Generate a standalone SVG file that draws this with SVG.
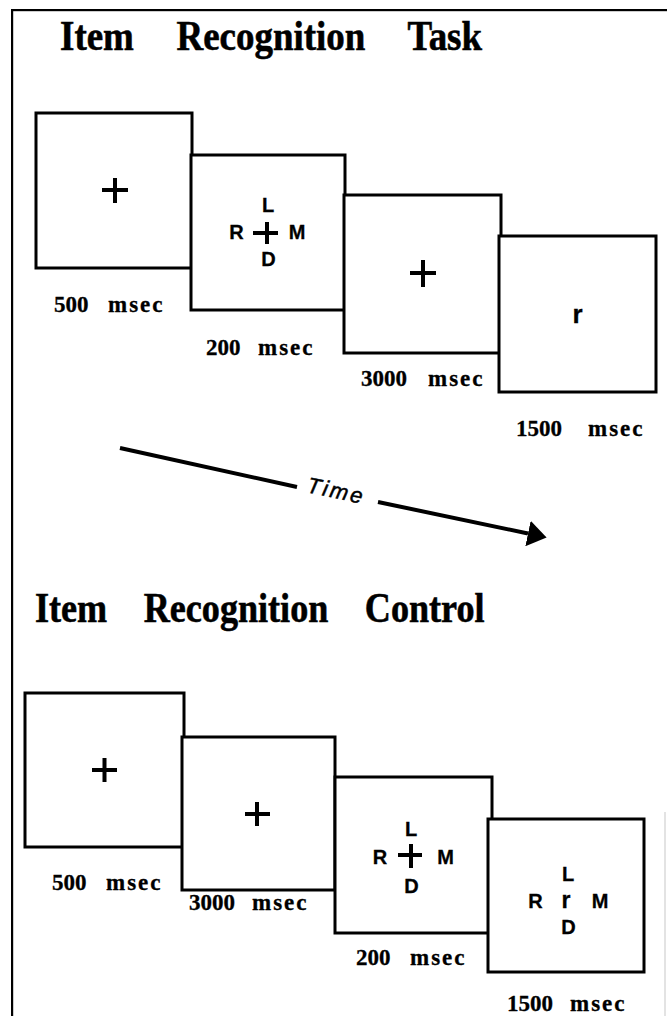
<svg xmlns="http://www.w3.org/2000/svg" width="667" height="1016" viewBox="0 0 667 1016">
<style>
.frame{fill:#000;stroke:none}
.box{fill:#fff;stroke:#000;stroke-width:3}
.title{font-family:"Liberation Serif","Times New Roman",serif;font-weight:bold;font-size:42px;fill:#000;stroke:#000;stroke-width:0.6}
.lbl{font-family:"Liberation Serif","Times New Roman",serif;font-weight:bold;font-size:23px;fill:#000;stroke:#000;stroke-width:0.3}
.ms{letter-spacing:2px}
.ltr{font-family:"Liberation Sans",Arial,sans-serif;font-weight:bold;font-size:20px;fill:#000;text-anchor:middle;stroke:#000;stroke-width:0.3}
.plus{stroke:#000;stroke-width:4;fill:none}
.arrow{stroke:#000;stroke-width:4;fill:none}
.time{font-family:"Liberation Sans",Arial,sans-serif;font-style:italic;font-size:22px;letter-spacing:2.5px;fill:#000;stroke:#000;stroke-width:0.5}
</style>
<defs>
<marker id="head" markerUnits="userSpaceOnUse" markerWidth="20" markerHeight="26" refX="0" refY="13" orient="auto" viewBox="0 0 20 26">
<path d="M0,0 L19,13 L0,26 Z" fill="#000"/>
</marker>
</defs>
<rect width="667" height="1016" fill="#fff"/>
<g id="frame">
<rect class="frame" x="11" y="9" width="656" height="2.2"/>
<rect class="frame" x="11" y="9" width="2.2" height="1007"/>
<rect x="664.5" y="812" width="1" height="204" fill="#c8c8c8"/>
</g>
<g id="title-task">
<text class="title" transform="translate(60,50) scale(0.88,1)" word-spacing="38">Item Recognition Task</text>
</g>
<g id="task-1">
<rect class="box" x="36" y="113" width="156" height="155"/>
<path class="plus" d="M102,190 H128 M115,178 V203"/>
<text class="lbl" x="54" y="312">500 <tspan class="ms" x="108">msec</tspan></text>
</g>
<g id="task-2">
<rect class="box" x="191" y="155" width="154" height="155"/>
<text class="ltr" x="268" y="212">L</text>
<text class="ltr" x="236.5" y="239">R</text>
<path class="plus" d="M253,233 H278 M267,222 V244"/>
<text class="ltr" x="297" y="239">M</text>
<text class="ltr" x="268.5" y="266">D</text>
<text class="lbl" x="206" y="355">200 <tspan class="ms" x="258">msec</tspan></text>
</g>
<g id="task-3">
<rect class="box" x="344" y="195" width="157" height="158"/>
<path class="plus" d="M410,273 H436 M423,260 V287"/>
<text class="lbl" x="361" y="386">3000 <tspan class="ms" x="428">msec</tspan></text>
</g>
<g id="task-4">
<rect class="box" x="499" y="236" width="157" height="156"/>
<text class="ltr" x="577.5" y="323" style="font-size:26px">r</text>
<text class="lbl" x="516" y="436">1500 <tspan class="ms" x="588">msec</tspan></text>
</g>
<g id="connectors">
<path class="arrow" d="M120,448 L297,487"/>
<path class="arrow" d="M378,502 L528,533.5" marker-end="url(#head)"/>
</g>
<g id="time-label">
<text class="time" transform="translate(306,492) rotate(12)">Time</text>
</g>
<g id="title-control">
<text class="title" transform="translate(35,622) scale(0.86,1)" word-spacing="32">Item Recognition Control</text>
</g>
<g id="control-1">
<rect class="box" x="25" y="693" width="159" height="154"/>
<path class="plus" d="M92,770 H117 M104.5,758 V782"/>
<text class="lbl" x="52" y="890">500 <tspan class="ms" x="106">msec</tspan></text>
</g>
<g id="control-2">
<rect class="box" x="182" y="737" width="153" height="153"/>
<path class="plus" d="M245,814 H270 M257,802 V826"/>
<text class="lbl" x="189" y="910">3000 <tspan class="ms" x="252">msec</tspan></text>
</g>
<g id="control-3">
<rect class="box" x="335" y="777" width="157" height="156"/>
<text class="ltr" x="411" y="836">L</text>
<text class="ltr" x="380" y="864">R</text>
<path class="plus" d="M398,855 H422 M411,844 V868"/>
<text class="ltr" x="445.5" y="864">M</text>
<text class="ltr" x="411.5" y="893">D</text>
<text class="lbl" x="356" y="965">200 <tspan class="ms" x="410">msec</tspan></text>
</g>
<g id="control-4">
<rect class="box" x="488" y="819" width="156" height="153"/>
<text class="ltr" x="568" y="881">L</text>
<text class="ltr" x="535.5" y="908">R</text>
<text class="ltr" x="566" y="908" style="font-size:23px">r</text>
<text class="ltr" x="600" y="908">M</text>
<text class="ltr" x="568.5" y="934">D</text>
<text class="lbl" x="507" y="1011">1500 <tspan class="ms" x="570">msec</tspan></text>
</g>
</svg>
